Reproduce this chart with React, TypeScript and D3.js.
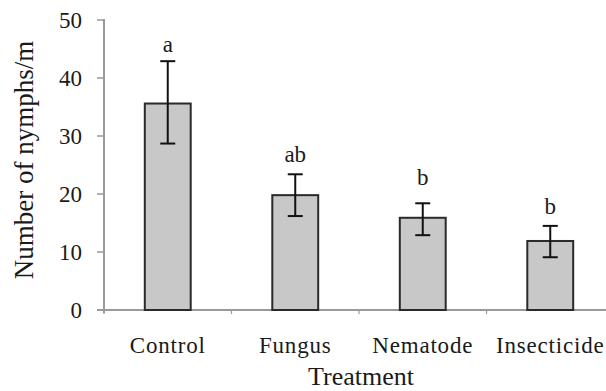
import * as d3 from 'd3'

const treatments = ['Control', 'Fungus', 'Nematode', 'Insecticide']
const means = [35.6, 19.8, 15.9, 11.9]
const errLow = [28.7, 16.2, 12.9, 9.1]
const errHigh = [42.9, 23.4, 18.4, 14.5]
const letters = ['a', 'ab', 'b', 'b']
const letterY = [44.4, 25.6, 21.6, 16.5]
const yTicks = [0, 10, 20, 30, 40, 50]

export default function App() {
  const width = 606
  const height = 391
  const left = 104
  const right = 614
  const top = 20
  const bottom = 310

  const x = d3.scaleBand<string>()
    .domain(treatments)
    .range([left, right])
    .paddingInner(0.64)
    .paddingOuter(0.32)
  const step = x.step()
  const y = d3.scaleLinear([0, 50], [bottom, top])

  const serif = 'Liberation Serif'
  const axisColor = '#9a9a9a'
  const ink = '#1a1a1a'

  return (
    <svg width={width} height={height} style={{position: 'absolute', left: 0, top: 0}}>
      <rect width={width} height={height} fill="#fff" />
      <g fontFamily={serif}>
        {/* y axis */}
        <line x1={left} x2={left} y1={y(50) - 1} y2={bottom + 3} stroke={axisColor} strokeWidth={2} />
        {yTicks.map(t => (
          <g key={t}>
            <line x1={left - 7} x2={left} y1={y(t)} y2={y(t)} stroke={axisColor} strokeWidth={1.5} />
            <text x={82} y={y(t)} dy="0.36em" textAnchor="end" fontSize={23} fill={ink}>{t}</text>
          </g>
        ))}
        {/* x axis */}
        <line x1={left - 7} x2={width} y1={bottom} y2={bottom} stroke={axisColor} strokeWidth={2} />
        {treatments.map((_, i) => (
          <line key={i} x1={left + i * step} x2={left + i * step} y1={bottom} y2={bottom + 4}
                stroke={axisColor} strokeWidth={1.2} />
        ))}
        {/* bars */}
        {treatments.map((t, i) => {
          const cx = x(t)! + x.bandwidth() / 2
          return (
            <g key={t}>
              <rect x={x(t)} y={y(means[i])} width={x.bandwidth()} height={bottom - y(means[i])}
                    fill="#c8c8c8" stroke="#2a2a2a" strokeWidth={2} />
              <line x1={cx} x2={cx} y1={y(errHigh[i])} y2={y(errLow[i])} stroke="#111" strokeWidth={2} />
              <line x1={cx - 7.5} x2={cx + 7.5} y1={y(errHigh[i])} y2={y(errHigh[i])} stroke="#111" strokeWidth={2} />
              <line x1={cx - 7.5} x2={cx + 7.5} y1={y(errLow[i])} y2={y(errLow[i])} stroke="#111" strokeWidth={2} />
              <text x={cx} y={y(letterY[i])} textAnchor="middle" fontSize={23} fill={ink}>{letters[i]}</text>
              <text x={cx} y={353} textAnchor="middle" fontSize={23} letterSpacing={0.8} fill={ink}>{t}</text>
            </g>
          )
        })}
        <text x={361} y={385} textAnchor="middle" fontSize={26} fill={ink}>Treatment</text>
        <text transform={`translate(24,160) rotate(-90)`} textAnchor="middle" dy="0.35em" fontSize={27} fill={ink}>
          Number of nymphs/m
        </text>
      </g>
    </svg>
  )
}
